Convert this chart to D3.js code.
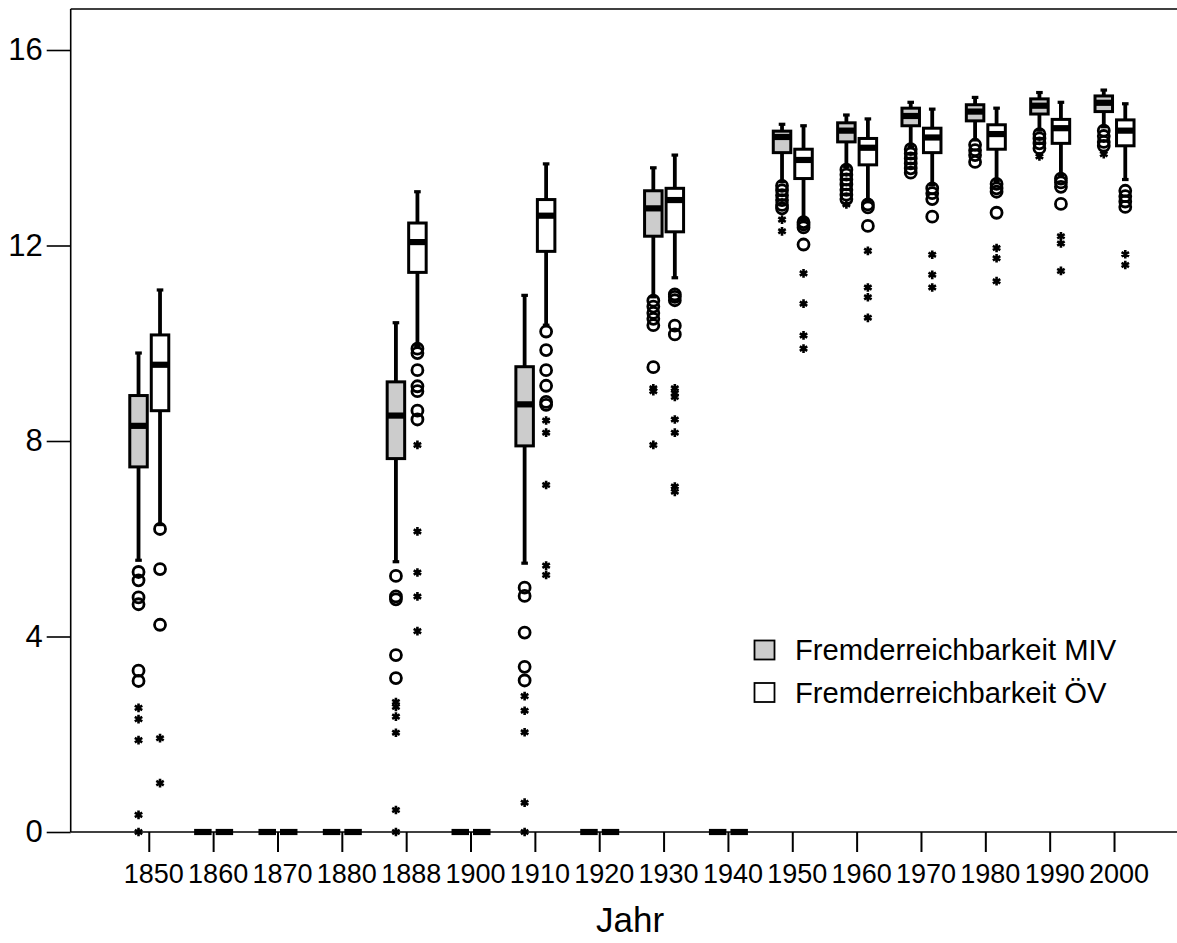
<!DOCTYPE html>
<html>
<head>
<meta charset="utf-8">
<script src="https://cdn.jsdelivr.net/npm/d3@7/dist/d3.min.js"></script>
<style>
  html, body { margin: 0; padding: 0; background: #fff; }
  svg { display: block; font-family: "Liberation Sans", Arial, sans-serif; }
</style>
</head>
<body>
<svg id="chart" width="1177" height="943"></svg>
<script>
// ---------- DATA ----------
const years = ["1850","1860","1870","1880","1888","1900","1910","1920","1930","1940","1950","1960","1970","1980","1990","2000"];
const seriesNames = ["Fremderreichbarkeit MIV", "Fremderreichbarkeit ÖV"];
const yTicks = [0, 4, 8, 12, 16];

// MIV (motorised individual transport)
const mivLow  = [5.56, 0, 0, 0, 5.53, 0, 5.50, 0, 10.95, 0, 13.31, 13.61, 14.02, 14.16, 14.36, 14.43];
const mivQ1   = [7.47, 0, 0, 0, 7.64, 0, 7.90, 0, 12.19, 0, 13.90, 14.12, 14.45, 14.55, 14.69, 14.74];
const mivMed  = [8.31, 0, 0, 0, 8.52, 0, 8.75, 0, 12.76, 0, 14.22, 14.35, 14.65, 14.74, 14.86, 14.92];
const mivQ3   = [8.93, 0, 0, 0, 9.21, 0, 9.52, 0, 13.12, 0, 14.34, 14.51, 14.81, 14.88, 15.00, 15.06];
const mivHigh = [9.80, 0, 0, 0, 10.42, 0, 10.98, 0, 13.59, 0, 14.48, 14.67, 14.93, 15.03, 15.13, 15.18];
const mivOutliers = [
  [5.32, 5.15, 4.80, 4.66, 3.30, 3.09], [], [], [],
  [5.24, 4.82, 4.76, 3.62, 3.15], [],
  [5.00, 4.83, 4.08, 3.38, 3.10], [],
  [10.87, 10.75, 10.62, 10.50, 10.37, 9.51], [],
  [13.22, 13.13, 13.03, 12.93, 12.83, 12.76],
  [13.55, 13.45, 13.35, 13.25, 13.14, 13.04, 12.95],
  [13.97, 13.88, 13.78, 13.68, 13.58, 13.49],
  [14.06, 13.95, 13.85, 13.71],
  [14.28, 14.19, 14.09, 13.99],
  [14.35, 14.24, 14.12, 14.04]
];
const mivExtremes = [
  [2.54, 2.31, 1.88, 0.35, 0], [], [], [],
  [2.66, 2.56, 2.36, 2.03, 0.45, 0], [],
  [2.78, 2.48, 2.04, 0.60, 0], [],
  [9.08, 9.02, 7.92], [],
  [12.53, 12.29],
  [12.84],
  [],
  [],
  [13.82],
  [13.87]
];

// ÖV (public transport)
const ovLow  = [6.29, 0, 0, 0, 9.95, 0, 10.37, 0, 11.34, 0, 12.52, 12.90, 13.24, 13.33, 13.44, 13.35];
const ovQ1   = [8.62, 0, 0, 0, 11.45, 0, 11.88, 0, 12.28, 0, 13.37, 13.65, 13.90, 13.97, 14.09, 14.04];
const ovMed  = [9.56, 0, 0, 0, 12.07, 0, 12.61, 0, 12.93, 0, 13.75, 14.00, 14.21, 14.28, 14.40, 14.35];
const ovQ3   = [10.17, 0, 0, 0, 12.46, 0, 12.94, 0, 13.17, 0, 13.97, 14.19, 14.40, 14.47, 14.58, 14.57];
const ovHigh = [11.09, 0, 0, 0, 13.10, 0, 13.67, 0, 13.85, 0, 14.45, 14.59, 14.79, 14.81, 14.93, 14.90];
const ovOutliers = [
  [6.20, 5.38, 4.24], [], [], [],
  [9.89, 9.80, 9.45, 9.12, 9.02, 8.62, 8.44], [],
  [10.24, 9.86, 9.45, 9.13, 8.80, 8.74], [],
  [11.00, 10.95, 10.88, 10.36, 10.18], [],
  [12.48, 12.43, 12.37, 12.02],
  [12.84, 12.78, 12.40],
  [13.17, 13.07, 12.95, 12.59],
  [13.26, 13.17, 13.10, 12.67],
  [13.37, 13.29, 13.20, 12.85],
  [13.12, 13.01, 12.90, 12.79]
];
const ovExtremes = [
  [1.92, 1.00], [], [], [],
  [7.92, 6.15, 5.31, 4.82, 4.11], [],
  [8.42, 8.17, 7.10, 5.45, 5.26], [],
  [9.08, 8.98, 8.90, 8.44, 8.17, 7.07, 6.96], [],
  [11.43, 10.81, 10.16, 9.89],
  [11.89, 11.14, 10.94, 10.52],
  [11.81, 11.40, 11.14],
  [11.95, 11.74, 11.27],
  [12.19, 12.04, 11.48],
  [11.82, 11.60]
];

const seriesColors = ["#cccccc", "#ffffff"];

// ---------- BUILD ----------
function buildSeries(name, low, q1, med, q3, high, outl, ext) {
  return years.map((yr, i) => ({
    year: yr, series: name,
    low: low[i], q1: q1[i], med: med[i], q3: q3[i], high: high[i],
    outliers: outl[i], extremes: ext[i]
  }));
}
const boxes = [
  ...buildSeries(seriesNames[0], mivLow, mivQ1, mivMed, mivQ3, mivHigh, mivOutliers, mivExtremes),
  ...buildSeries(seriesNames[1], ovLow, ovQ1, ovMed, ovQ3, ovHigh, ovOutliers, ovExtremes)
];

const svg = d3.select("#chart");
const axisLeftX = 70.7, axisY = 832, topY = 9, rightX = 1177;
const FONT = "'Liberation Sans', Arial, sans-serif";

const x = d3.scaleBand().domain(years).range([117.1, 1146.7]).paddingInner(0).paddingOuter(0);
const xSub = d3.scaleBand().domain(seriesNames).range([-21.5, 21.5]);
const y = d3.scaleLinear().domain([0, 16]).range([axisY, 50]);
const color = d3.scaleOrdinal().domain(seriesNames).range(seriesColors);

const boxW = 17.5;

// frame
svg.append("line").attr("x1", axisLeftX).attr("x2", rightX).attr("y1", topY).attr("y2", topY)
  .attr("stroke", "#000").attr("stroke-width", 1.5);

// y axis
const yAxis = svg.append("g").attr("transform", `translate(${axisLeftX},0)`)
  .call(d3.axisLeft(y).tickValues(yTicks).tickSize(24).tickPadding(4).tickFormat(d3.format("d")));
yAxis.select(".domain").remove();
yAxis.selectAll(".tick line").attr("stroke", "#000").attr("stroke-width", 1.6);
yAxis.selectAll(".tick text").attr("font-size", 31).attr("fill", "#000").attr("font-family", FONT);
svg.append("line").attr("x1", axisLeftX).attr("x2", axisLeftX).attr("y1", topY).attr("y2", axisY)
  .attr("stroke", "#000").attr("stroke-width", 1.6);

// x axis
const xAxis = svg.append("g").attr("transform", `translate(0,${axisY})`)
  .call(d3.axisBottom(x).tickSize(20).tickPadding(12));
xAxis.select(".domain").remove();
xAxis.selectAll(".tick line").attr("stroke", "#000").attr("stroke-width", 2);
xAxis.selectAll(".tick text").attr("font-size", 27).attr("fill", "#000").attr("dx", 4.5)
  .attr("font-family", FONT);
svg.append("line").attr("x1", axisLeftX).attr("x2", rightX).attr("y1", axisY).attr("y2", axisY)
  .attr("stroke", "#000").attr("stroke-width", 1.6);

// axis title
svg.append("text").attr("x", 630).attr("y", 932).attr("text-anchor", "middle")
  .attr("font-size", 35).attr("fill", "#000").text("Jahr");

// boxes
const g = svg.append("g");
const cx = d => x(d.year) + x.bandwidth() / 2 + xSub(d.series) + xSub.bandwidth() / 2;

const grp = g.selectAll("g.box").data(boxes).join("g").attr("class", "box");

// whiskers
grp.append("line").attr("x1", cx).attr("x2", cx).attr("y1", d => y(d.q3)).attr("y2", d => y(d.high))
  .attr("stroke", "#000").attr("stroke-width", 3.8);
grp.append("line").attr("x1", cx).attr("x2", cx).attr("y1", d => y(d.q1)).attr("y2", d => y(d.low))
  .attr("stroke", "#000").attr("stroke-width", 3.8);
// caps
grp.append("line").attr("x1", d => cx(d) - 3.3).attr("x2", d => cx(d) + 3.3)
  .attr("y1", d => y(d.high)).attr("y2", d => y(d.high)).attr("stroke", "#000").attr("stroke-width", 3.2);
grp.append("line").attr("x1", d => cx(d) - 3.3).attr("x2", d => cx(d) + 3.3)
  .attr("y1", d => y(d.low)).attr("y2", d => y(d.low)).attr("stroke", "#000").attr("stroke-width", 3.2);
// box
grp.append("rect").attr("x", d => cx(d) - boxW / 2).attr("width", boxW)
  .attr("y", d => y(d.q3)).attr("height", d => y(d.q1) - y(d.q3))
  .attr("fill", d => color(d.series)).attr("stroke", "#000").attr("stroke-width", 3);
// median
grp.append("line").attr("x1", d => cx(d) - boxW / 2).attr("x2", d => cx(d) + boxW / 2)
  .attr("y1", d => y(d.med)).attr("y2", d => y(d.med)).attr("stroke", "#000").attr("stroke-width", 6.2);

// outliers (circles) and extremes (stars)
grp.each(function(d) {
  const sel = d3.select(this);
  sel.selectAll("circle").data(d.outliers).join("circle")
    .attr("cx", cx(d)).attr("cy", v => y(v)).attr("r", 5.5)
    .attr("fill", "none").attr("stroke", "#000").attr("stroke-width", 2.8);
  sel.selectAll("path.ext").data(d.extremes).join("path").attr("class", "ext")
    .attr("transform", v => `translate(${cx(d)},${y(v)})`)
    .attr("d", d3.symbol(d3.symbolAsterisk, 52)())
    .attr("fill", "none").attr("stroke", "#000").attr("stroke-width", 2.6);
});

// legend
const legend = svg.append("g");
const legY = d3.scalePoint().domain(seriesNames).range([650, 692.5]);
legend.selectAll("rect").data(seriesNames).join("rect")
  .attr("x", 754.5).attr("y", d => legY(d) - 9.5).attr("width", 20).attr("height", 19)
  .attr("fill", d => color(d)).attr("stroke", "#000").attr("stroke-width", 1.8);
legend.selectAll("text").data(seriesNames).join("text")
  .attr("x", 795).attr("y", d => legY(d) + 10).attr("font-size", 29.2).attr("fill", "#000")
  .text(d => d);
</script>
</body>
</html>
